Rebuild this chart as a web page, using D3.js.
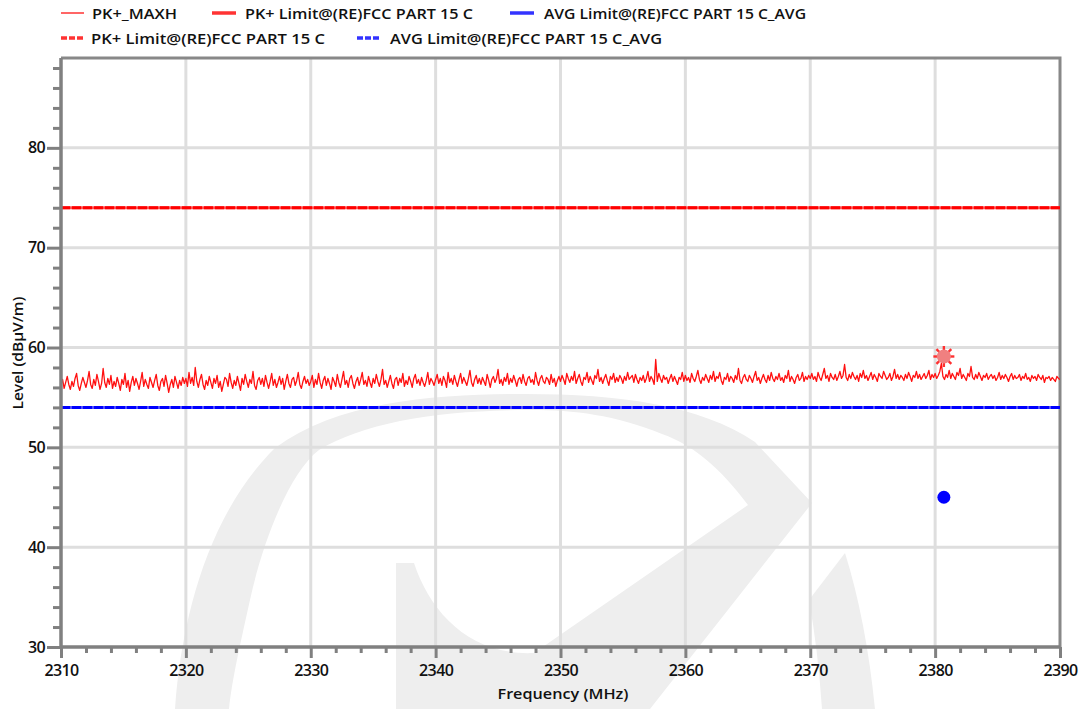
<!DOCTYPE html>
<html><head><meta charset="utf-8">
<script src="https://cdn.jsdelivr.net/npm/d3@7"></script>
<style>body{margin:0;background:#fff}svg{display:block}text{font-family:"Open Sans",sans-serif}</style>
</head><body><svg id="c" width="1085" height="709"></svg>
<script>
// ---- data ----
const xTicks = [2310,2320,2330,2340,2350,2360,2370,2380,2390];
const yTicks = [30,40,50,60,70,80];
const sweepStart = 2310, sweepStep = 0.125;
const pkMaxh = [
56.2,56.8,55.9,56.5,57.1,56.3,55.8,56.6,56.1,56.9,57.4,56.2,55.7,56.4,57.0,56.5,56.0,56.7,57.6,56.3,
55.9,56.8,56.2,57.3,56.6,55.8,56.4,57.9,56.5,56.0,56.9,56.3,57.2,55.9,56.6,56.1,57.0,56.4,55.7,56.8,
56.3,57.4,56.0,56.7,55.6,56.5,57.1,56.2,56.9,56.4,55.8,56.6,57.5,56.1,56.8,56.3,55.9,57.0,56.5,56.0,
56.7,57.3,56.2,55.7,56.6,56.9,56.1,57.2,56.4,55.5,56.3,56.8,56.0,57.1,56.5,55.9,56.7,56.2,57.0,56.4,
56.9,56.1,57.5,56.4,57.0,56.2,58.0,56.6,56.0,56.8,57.3,56.3,55.8,56.7,56.2,57.1,56.5,55.9,56.9,56.4,
57.2,56.0,56.6,55.6,56.3,57.0,56.8,56.1,57.4,56.5,55.9,56.7,56.2,57.1,56.4,55.7,56.9,56.3,57.3,56.6,
56.0,56.8,56.4,57.6,56.2,55.8,56.7,57.0,56.3,56.9,56.1,57.2,56.5,55.9,56.6,57.4,56.2,56.8,56.0,56.5,
57.1,56.3,56.9,55.8,56.6,57.3,56.4,56.0,56.8,57.0,56.2,56.7,57.5,56.3,55.9,56.6,57.1,56.4,56.8,56.2,
56.6,57.2,56.0,56.8,56.3,57.4,56.5,55.9,56.7,57.1,56.2,56.9,56.4,55.8,57.0,56.6,56.1,57.3,56.5,56.0,
56.8,57.6,56.3,56.7,56.0,56.9,57.2,56.4,55.9,56.6,57.0,56.2,56.8,57.5,56.3,56.7,56.1,57.1,56.5,56.0,
56.9,56.4,57.3,56.6,56.1,56.8,57.8,56.3,56.7,56.0,56.6,57.2,56.4,55.9,56.8,57.0,56.2,56.9,56.5,57.4,
56.1,56.7,56.3,57.1,56.6,56.0,56.9,57.3,56.4,56.8,56.2,57.0,56.5,56.1,56.7,57.5,56.3,56.9,56.6,56.2,
56.8,57.3,56.4,56.9,56.2,57.1,56.7,56.0,57.5,56.5,56.9,56.3,57.2,56.6,56.1,56.8,57.4,56.4,57.0,56.6,
56.2,56.9,57.7,56.5,56.1,56.8,57.2,56.4,56.9,56.3,57.0,56.6,56.2,57.3,56.7,56.0,56.8,57.1,56.5,56.9,
57.8,56.4,56.8,56.2,57.0,56.6,57.4,56.3,56.9,56.5,57.2,56.7,56.1,56.8,57.0,56.4,57.3,56.6,56.2,56.9,
57.1,56.5,56.8,56.3,57.5,56.7,56.2,56.9,57.2,56.6,56.4,57.0,56.8,56.3,57.3,56.5,56.9,56.1,56.7,57.1,
56.6,57.2,56.8,56.3,57.4,56.9,56.5,57.1,56.7,57.6,56.4,56.9,57.3,56.6,56.2,57.0,56.8,57.5,56.5,57.1,
56.7,56.3,57.2,56.9,57.8,56.6,57.0,56.4,56.9,57.3,56.7,56.2,57.1,56.8,57.4,56.5,57.0,56.6,57.2,56.9,
56.4,57.1,56.7,57.5,56.8,57.0,57.2,56.5,57.3,56.8,56.4,57.0,56.7,57.2,56.5,56.9,57.6,56.6,57.1,56.8,
56.3,58.8,56.6,57.4,56.9,56.5,57.2,56.8,57.0,56.4,56.9,57.3,56.6,57.1,56.7,56.3,57.0,56.8,57.5,56.6,
57.2,56.7,57.0,56.5,57.4,56.9,56.6,57.1,57.7,56.8,56.4,57.0,56.7,57.3,56.9,56.5,57.2,56.8,57.6,56.6,
57.1,56.9,57.5,56.7,56.3,57.0,56.8,57.4,56.6,57.1,56.9,56.5,57.2,56.8,57.9,56.7,56.4,57.0,57.3,56.8,
56.6,57.2,56.9,56.5,57.1,57.6,56.7,57.0,56.4,56.9,57.3,56.8,56.5,57.2,56.7,57.5,56.9,56.6,57.1,56.8,
57.4,56.7,57.0,56.5,57.2,56.9,57.7,56.6,57.1,56.8,56.4,57.0,57.3,56.7,56.9,57.5,56.6,57.1,56.8,57.2,
56.9,57.4,56.8,57.1,56.6,57.5,57.0,56.7,57.3,57.9,56.9,57.2,56.6,57.4,57.0,56.8,57.3,56.7,57.1,57.6,
56.9,57.2,58.3,57.0,56.7,57.3,56.9,57.5,57.1,56.8,57.2,56.6,57.4,57.0,57.7,56.9,57.2,56.7,57.1,57.5,
56.8,57.3,57.0,56.6,57.4,57.1,56.9,57.6,57.2,56.8,57.0,57.4,56.7,57.1,57.8,56.9,57.3,56.8,57.2,57.0,
56.7,57.3,56.9,57.5,57.1,56.6,57.2,57.0,57.6,56.9,57.3,56.8,57.1,57.4,56.9,57.2,57.7,56.8,57.3,57.0,
57.4,56.9,57.2,57.6,58.4,57.1,56.8,57.3,57.0,57.7,56.9,57.4,57.1,56.8,57.5,57.2,57.9,56.9,57.3,57.0,
56.7,57.4,57.1,58.1,57.0,56.8,57.3,56.9,57.5,57.1,56.7,57.2,57.0,57.4,56.8,57.1,57.3,56.9,57.2,56.7,
57.0,57.5,56.8,57.2,56.9,57.3,57.0,56.6,57.1,57.4,56.8,57.2,56.9,57.0,57.3,56.7,57.1,56.9,57.4,56.8,
57.0,56.6,57.2,56.9,57.1,56.7,57.3,57.0,56.8,57.2,56.5,57.0,56.9,57.1,56.7,57.0,56.8,56.6,57.1,56.9,
56.8];
const pkLimit = 74, avgLimit = 54;
const pkMarker = {f: 2380.7, v: 59.1};
const avgMarker = {f: 2380.7, v: 45.0};
const legendRow1 = ["PK+_MAXH","PK+ Limit@(RE)FCC PART 15 C","AVG Limit@(RE)FCC PART 15 C_AVG"];
const legendRow2 = ["PK+ Limit@(RE)FCC PART 15 C","AVG Limit@(RE)FCC PART 15 C_AVG"];
const xTitle = "Frequency (MHz)", yTitle = "Level (dBµV/m)";

// ---- drawing ----
const svg = d3.select("#c");
const L = 61, R = 1060, T = 58, B = 647;
const x = d3.scaleLinear().domain([2310,2390]).range([L,R]);
const y = d3.scaleLinear().domain([30,89]).range([B,T]);

// watermark
const wm = svg.append("g").attr("fill","#eeeeee");
wm.append("path").attr("d",
  "M175,709 C182,610 212,510 275,448 C340,400 440,394 525,394 C620,394 700,405 755,442 L812,503 L650,709 L396,709 L396,563 L414,563 " +
  "C430,612 470,656 534,653 L748,505 C720,468 695,446 662,434 C615,415 575,410 530,410 C440,410 365,422 319,450 C290,472 263,540 250,600 C240,645 232,680 229,709 Z");
wm.append("path").attr("d","M845,553 Q866,620 875,709 L822,709 Q818,650 809,600 Z");

// grid
const grid = svg.append("g").attr("stroke","#dedede").attr("stroke-width",3);
grid.selectAll(".gx").data(xTicks.slice(1,-1)).join("line")
  .attr("x1",d=>x(d)).attr("x2",d=>x(d)).attr("y1",T).attr("y2",B);
grid.selectAll(".gy").data(yTicks.slice(1)).join("line")
  .attr("x1",L).attr("x2",R).attr("y1",d=>y(d)).attr("y2",d=>y(d));

// frame top/right
svg.append("path").attr("d",`M${L},${T}H${R}V${B}`).attr("fill","none").attr("stroke","#888").attr("stroke-width",3);

// clip
svg.append("clipPath").attr("id","pc").append("rect").attr("x",L).attr("y",T).attr("width",R-L).attr("height",B-T);
const plot = svg.append("g").attr("clip-path","url(#pc)");

// limit lines
function limit(v, solid, dash){
  plot.append("line").attr("x1",L).attr("x2",R).attr("y1",y(v)).attr("y2",y(v)).attr("stroke",solid).attr("stroke-width",3);
  plot.append("line").attr("x1",L).attr("x2",R).attr("y1",y(v)).attr("y2",y(v)).attr("stroke",dash).attr("stroke-width",3).attr("stroke-dasharray","9,2");
}
limit(pkLimit,"#ff5050","#ff0000");
limit(avgLimit,"#5050ff","#0000ff");

// trace
const pts = pkMaxh.map((v,i)=>[sweepStart+i*sweepStep, v]);
plot.append("path").datum(pts)
  .attr("d", d3.line().x(d=>x(d[0])).y(d=>y(d[1])))
  .attr("fill","none").attr("stroke","#ff1010").attr("stroke-width",1.3).attr("stroke-linejoin","round");

// markers
const px = x(pkMarker.f), py = y(pkMarker.v);
const star = svg.append("g").attr("transform",`translate(${px},${py})`);
for (let a=0;a<8;a++){
  const ang = a*Math.PI/4;
  star.append("line").attr("x1",0).attr("y1",0).attr("x2",10.5*Math.cos(ang)).attr("y2",10.5*Math.sin(ang))
    .attr("stroke","#ff3030").attr("stroke-width",2.4);
}
star.append("circle").attr("r",7).attr("fill","#f08080");
svg.append("circle").attr("cx",x(avgMarker.f)).attr("cy",y(avgMarker.v)).attr("r",6.5).attr("fill","#0000ff");

// axes
const axCol = "#808080";
const xMinor = d3.range(2310,2391,2).filter(d=>!xTicks.includes(d));
const yMinor = d3.range(30,89.01,2).filter(d=>!yTicks.includes(d));
const fmt = d3.format("d");
const gxm = svg.append("g").attr("transform",`translate(0,${B})`).call(d3.axisBottom(x).tickValues(xMinor).tickSize(6).tickFormat(""));
const gx = svg.append("g").attr("transform",`translate(0,${B})`).call(d3.axisBottom(x).tickValues(xTicks).tickSize(11).tickPadding(7).tickFormat(fmt));
const gym = svg.append("g").attr("transform",`translate(${L},0)`).call(d3.axisLeft(y).tickValues(yMinor).tickSize(8).tickFormat(""));
const gy = svg.append("g").attr("transform",`translate(${L},0)`).call(d3.axisLeft(y).tickValues(yTicks).tickSize(14).tickPadding(2).tickFormat(fmt));
[gxm,gx,gym,gy].forEach(g=>{
  g.select(".domain").attr("stroke",axCol).attr("stroke-width",3);
  g.selectAll(".tick line").attr("stroke",axCol).attr("stroke-width",3);
  g.selectAll("text").attr("font-size",16).attr("fill","#111").attr("font-family","'Open Sans',sans-serif").attr("font-weight",600).attr("letter-spacing",-0.6);
});
gym.select(".domain").attr("d",`M0,${T}V${B}`);
gy.select(".domain").attr("d",`M0,${T}V${B}`);
gx.select(".domain").attr("d",`M${L},0H${R}`);
gxm.select(".domain").attr("d",`M${L},0H${R}`);

// titles
svg.append("text").attr("x",563).attr("y",699).attr("text-anchor","middle").attr("font-size",15).attr("font-weight",600)
  .attr("fill","#111").attr("textLength",131).attr("lengthAdjust","spacingAndGlyphs").text(xTitle);
svg.append("text").attr("transform","translate(23,353) rotate(-90)").attr("text-anchor","middle").attr("font-size",15).attr("font-weight",600)
  .attr("fill","#111").attr("textLength",113).attr("lengthAdjust","spacingAndGlyphs").text(yTitle);

// legend
const leg = svg.append("g").attr("font-size",15).attr("font-weight",600).attr("fill","#111");
function item(x0, x1, yy, txt, col, w, dash, tx, tl){
  leg.append("line").attr("x1",x0).attr("x2",x1).attr("y1",yy).attr("y2",yy).attr("stroke",col).attr("stroke-width",w).attr("stroke-dasharray",dash);
  leg.append("text").attr("x",tx).attr("y",yy+5.5).attr("textLength",tl).attr("lengthAdjust","spacingAndGlyphs").text(txt);
}
item(61,84,13,legendRow1[0],"#ff3333",1.5,null,92,85);
item(212,236,13,legendRow1[1],"#ff3333",3.5,null,245,228);
item(510,534,13,legendRow1[2],"#3333ff",3.5,null,544,262);
item(61,84,38,legendRow2[0],"#ff3333",3.5,"6,2",91,234);
item(357,381,38,legendRow2[1],"#3333ff",3.5,"6,2",390,272);
</script></body></html>
